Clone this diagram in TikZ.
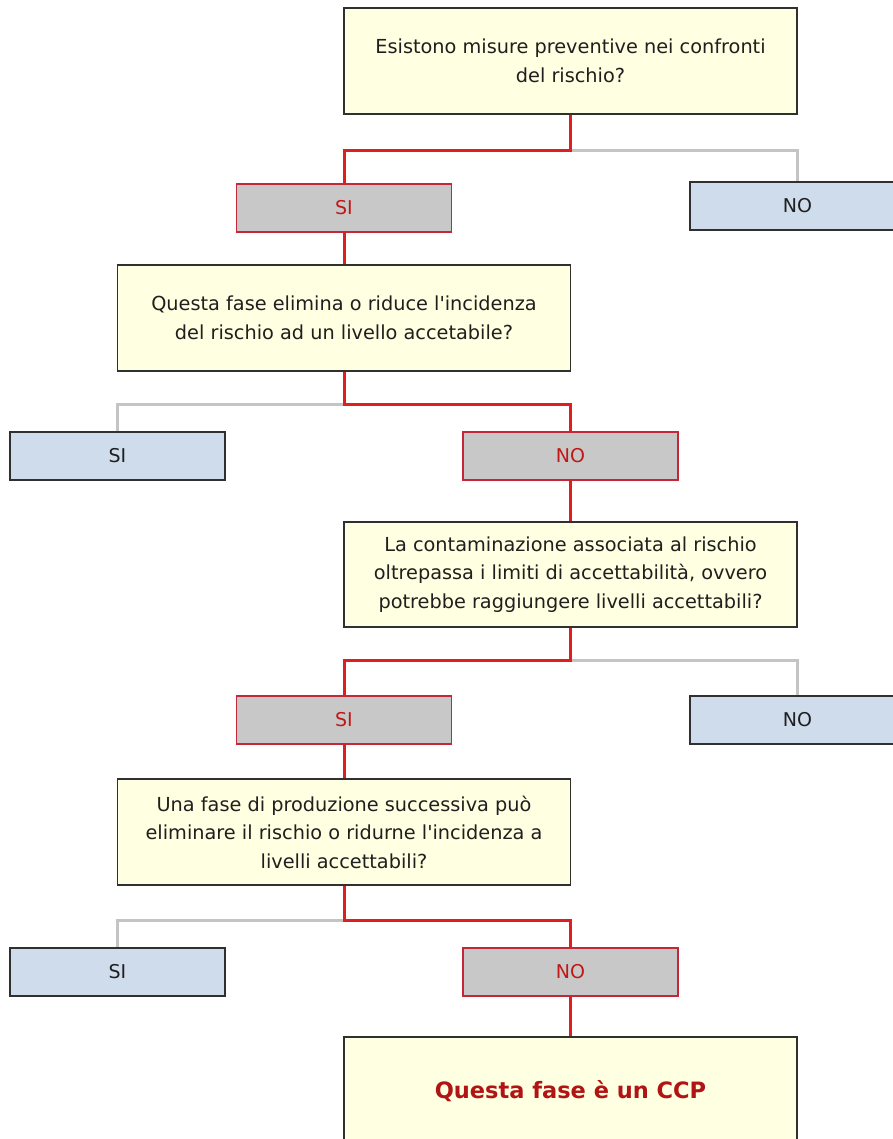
\documentclass[tikz,border=0pt]{standalone}
\usepackage{fontspec}
\setmainfont{DejaVu Sans}[Ligatures=TeXOff]
\definecolor{qfill}{HTML}{FFFFE1}
\definecolor{gfill}{HTML}{C8C8C8}
\definecolor{bfill}{HTML}{CFDCEC}
\definecolor{rline}{HTML}{E01E1E}
\definecolor{gline}{HTML}{C4C4C4}
\definecolor{rborder}{HTML}{C42838}
\definecolor{rtext}{HTML}{C01818}
\definecolor{ftext}{HTML}{B01414}
\definecolor{kborder}{HTML}{303030}
\tikzset{
  qbox/.style={draw=kborder,line width=1.5pt,fill=qfill,minimum width=453pt,minimum height=106pt,align=center,font=\fontsize{19.3}{28.5}\selectfont,text=black!88,inner sep=0pt,execute at begin node={\rule{0pt}{22pt}}},
  selbox/.style={draw=rborder,line width=1.8pt,fill=gfill,minimum width=215pt,minimum height=48pt,font=\fontsize{19}{20}\selectfont,text=rtext,inner sep=0pt},
  altbox/.style={draw=kborder,line width=1.5pt,fill=bfill,minimum width=215pt,minimum height=48pt,font=\fontsize{19}{20}\selectfont,text=black!88,inner sep=0pt},
  redpath/.style={draw=rline,line width=3pt},
  graypath/.style={draw=gline,line width=3pt}
}
\begin{document}
\begin{tikzpicture}[x=1pt,y=-1pt]
\clip (0,0) rectangle (893,1139);
\fill[white] (0,0) rectangle (893,1139);
% nodes
\node[qbox] (q1) at (570.5,61) {Esistono misure preventive nei confronti\\del rischio?};
\node[selbox] (si1) at (344,208) {SI};
\node[altbox] (no1) at (797.5,206) {NO};
\node[qbox] (q2) at (344,318) {Questa fase elimina o riduce l'incidenza\\del rischio ad un livello accetabile?};
\node[altbox] (si2) at (117.5,456) {SI};
\node[selbox] (no2) at (570.5,456) {NO};
\node[qbox,minimum height=105pt] (q3) at (570.5,574.5) {La contaminazione associata al rischio\\oltrepassa i limiti di accettabilità, ovvero\\potrebbe raggiungere livelli accettabili?};
\node[selbox] (si3) at (344,720) {SI};
\node[altbox] (no3) at (797.5,720) {NO};
\node[qbox,minimum height=106pt] (q4) at (344,832) {Una fase di produzione successiva può\\eliminare il rischio o ridurne l'incidenza a\\livelli accettabili?};
\node[altbox] (si4) at (117.5,972) {SI};
\node[selbox] (no4) at (570.5,972) {NO};
\node[qbox,minimum height=104pt,execute at begin node={},font=\fontsize{22.5}{24}\selectfont\bfseries,text=ftext] (ccp) at (570.5,1089) {Questa fase è un CCP};
% connectors: gray first, red on top
\draw[graypath] (q1.south) ++(0,36) -| (no1.north);
\draw[redpath] (q1.south) -- ++(0,36) -| (si1.north);
\draw[redpath] (si1.south) -- (q2.north);
\draw[graypath] (q2.south) ++(0,33) -| (si2.north);
\draw[redpath] (q2.south) -- ++(0,33) -| (no2.north);
\draw[redpath] (no2.south) -- (q3.north);
\draw[graypath] (q3.south) ++(0,33) -| (no3.north);
\draw[redpath] (q3.south) -- ++(0,33) -| (si3.north);
\draw[redpath] (si3.south) -- (q4.north);
\draw[graypath] (q4.south) ++(0,35) -| (si4.north);
\draw[redpath] (q4.south) -- ++(0,35) -| (no4.north);
\draw[redpath] (no4.south) -- (ccp.north);
\end{tikzpicture}
\end{document}
